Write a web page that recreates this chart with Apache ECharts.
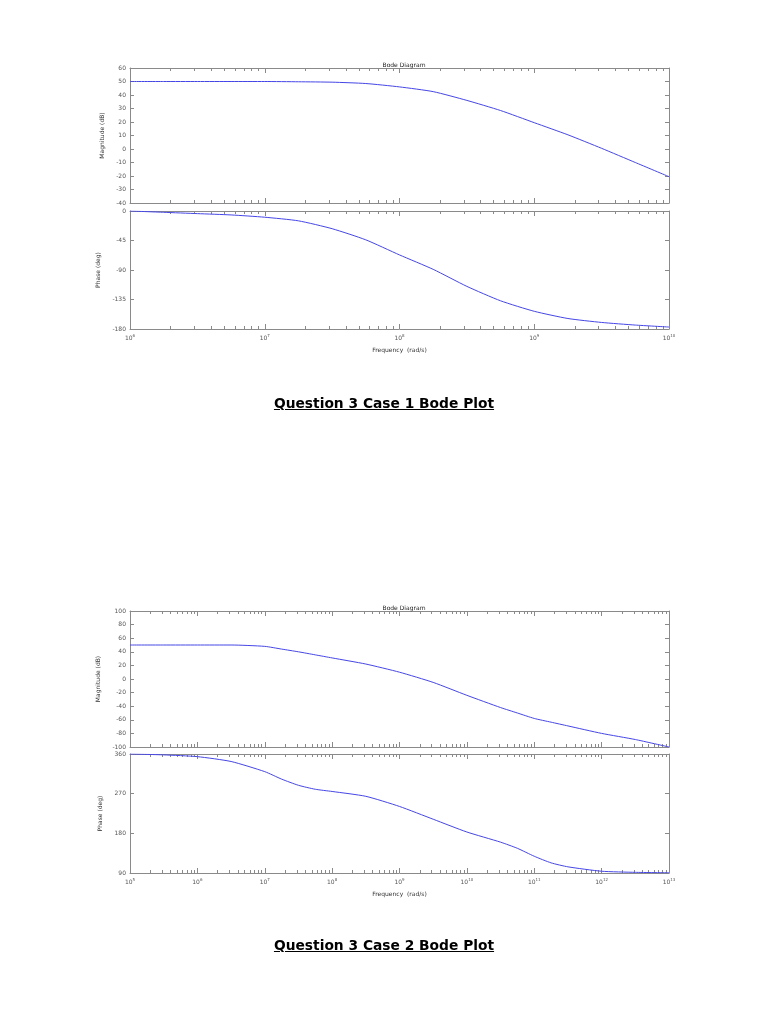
<!DOCTYPE html>
<html>
<head>
<meta charset="utf-8">
<script src="https://cdn.jsdelivr.net/npm/echarts@6/dist/echarts.min.js"></script>
<style>
  html, body { margin: 0; padding: 0; background: #fff; }
  #chart { position: absolute; left: 0; top: 0; width: 768px; height: 1024px; }
  .cap { position: absolute; left: 0; width: 768px; text-align: center;
         font-family: "DejaVu Sans", sans-serif; font-weight: bold; font-size: 13.8px;
         text-decoration: underline; color: #000; }
</style>
</head>
<body>
<div id="chart"></div>
<div class="cap" style="top:395px;">Question 3 Case 1 Bode Plot</div>
<div class="cap" style="top:937px;">Question 3 Case 2 Bode Plot</div>
<script>
// ---- Data (frequency given as log10 of rad/s) ----
const case1LogFreq = [6, 6.25, 6.5, 6.75, 7, 7.25, 7.5, 7.75, 8, 8.25, 8.5, 8.75, 9, 9.25, 9.5, 9.75, 10];
const case1Mag     = [50, 50, 50, 50, 50, 49.8, 49.5, 48.5, 46, 42.5, 36, 28.5, 19.5, 10.5, 0.5, -10, -20.5];
const case1Phase   = [0, -2, -4, -6, -9.5, -15, -27, -44, -67, -89, -115, -137, -153, -164, -170, -174, -177];

const case2LogFreq = [5, 5.5, 6, 6.5, 7, 7.25, 7.5, 7.75, 8, 8.5, 9, 9.5, 10, 10.5, 10.75, 11, 11.25, 11.5, 12, 12.5, 13];
const case2Mag     = [50, 50, 50, 50, 48, 44, 40, 35.5, 31, 22, 10, -5, -24, -42, -50, -58, -63.5, -69, -80, -89, -100];
const case2Phase   = [360, 358, 354, 343, 320, 303, 289, 280, 275, 264, 241, 212, 183, 160, 146, 128, 113, 104, 94, 91.5, 90.5];

const case1MagTicks = { min: -40, max: 60, interval: 10 };
const case1PhTicks  = { min: -180, max: 0, interval: 45 };
const case2MagTicks = { min: -100, max: 100, interval: 20 };
const case2PhTicks  = { min: 90, max: 360, interval: 90 };

const titleText = 'Bode Diagram';
const xName = 'Frequency  (rad/s)';
const magName = 'Magnitude (dB)';
const phName = 'Phase (deg)';

// ---- Build chart ----
const AX = '#8a8a8a';
const LAB = '#555';
const LINE = '#4646e6';

function minorTicks(lo, hi) {
  const out = [];
  for (let d = lo; d < hi; d++) for (let k = 2; k <= 9; k++) out.push(d + Math.log10(k));
  return out;
}

const grids = [
  { left: 130, width: 539, top: 68,  height: 135 },
  { left: 130, width: 539, top: 211, height: 118 },
  { left: 130, width: 539, top: 611, height: 136 },
  { left: 130, width: 539, top: 754, height: 119 }
];

const xAxes = [], yAxes = [], series = [];

function addPanel(gi, lo, hi, yt, yname, showX, logF, vals) {
  const minor = minorTicks(lo, hi);
  const base = { type: 'value', gridIndex: gi, min: lo, max: hi, interval: 1,
                 splitLine: { show: false } };
  const xStart = xAxes.length;
  xAxes.push(Object.assign({}, base, {
    position: 'bottom',
    axisLine: { show: true, onZero: false, lineStyle: { color: AX, width: 1 } },
    axisTick: { show: true, inside: true, length: 5, lineStyle: { color: AX } },
    axisLabel: showX ? {
      show: true, margin: 5, color: LAB,
      formatter: v => '{b|10}{e|' + v + '}',
      rich: { b: { fontSize: 6, color: LAB, fontFamily: 'DejaVu Sans' },
              e: { fontSize: 4, color: LAB, fontFamily: 'DejaVu Sans', padding: [0, 0, 5, 0] } }
    } : { show: false },
    name: showX ? xName : '', nameLocation: 'middle', nameGap: 18,
    nameTextStyle: { fontSize: 6, color: '#333', fontFamily: 'DejaVu Sans' }
  }));
  xAxes.push(Object.assign({}, base, {
    position: 'bottom',
    axisLine: { show: false, onZero: false },
    axisTick: { show: true, inside: true, length: 3, customValues: minor, lineStyle: { color: AX } },
    axisLabel: { show: false }
  }));
  xAxes.push(Object.assign({}, base, {
    position: 'top',
    axisLine: { show: true, onZero: false, lineStyle: { color: AX, width: 1 } },
    axisTick: { show: true, inside: true, length: 5, lineStyle: { color: AX } },
    axisLabel: { show: false }
  }));
  xAxes.push(Object.assign({}, base, {
    position: 'top',
    axisLine: { show: false, onZero: false },
    axisTick: { show: true, inside: true, length: 3, customValues: minor, lineStyle: { color: AX } },
    axisLabel: { show: false }
  }));
  const yStart = yAxes.length;
  yAxes.push({
    type: 'value', gridIndex: gi, position: 'left', min: yt.min, max: yt.max, interval: yt.interval,
    splitLine: { show: false },
    axisLine: { show: true, onZero: false, lineStyle: { color: AX } },
    axisTick: { show: true, inside: true, length: 4, lineStyle: { color: AX } },
    axisLabel: { show: true, margin: 4, fontSize: 6, color: LAB, fontFamily: 'DejaVu Sans' },
    name: yname, nameLocation: 'middle', nameGap: 17, nameRotate: 90,
    nameTextStyle: { fontSize: 6, color: '#333', fontFamily: 'DejaVu Sans' }
  });
  yAxes.push({
    type: 'value', gridIndex: gi, position: 'right', min: yt.min, max: yt.max, interval: yt.interval,
    splitLine: { show: false },
    axisLine: { show: true, onZero: false, lineStyle: { color: AX } },
    axisTick: { show: true, inside: true, length: 4, lineStyle: { color: AX } },
    axisLabel: { show: false }
  });
  series.push({
    type: 'line', xAxisIndex: xStart, yAxisIndex: yStart, showSymbol: false,
    smooth: 0.2,
    lineStyle: { color: LINE, width: 1 }, itemStyle: { color: LINE },
    data: logF.map((f, i) => [f, vals[i]]), animation: false, silent: true
  });
}

addPanel(0, 6, 10, case1MagTicks, magName, false, case1LogFreq, case1Mag);
addPanel(1, 6, 10, case1PhTicks, phName, true, case1LogFreq, case1Phase);
addPanel(2, 5, 13, case2MagTicks, magName, false, case2LogFreq, case2Mag);
addPanel(3, 5, 13, case2PhTicks, phName, true, case2LogFreq, case2Phase);

const chart = echarts.init(document.getElementById('chart'), null, { renderer: 'canvas' });
chart.setOption({
  animation: false,
  backgroundColor: '#fff',
  title: [
    { text: titleText, left: 399, top: 57, textAlign: 'center',
      textStyle: { fontSize: 6, fontWeight: 'normal', color: '#222', fontFamily: 'DejaVu Sans' } },
    { text: titleText, left: 399, top: 600, textAlign: 'center',
      textStyle: { fontSize: 6, fontWeight: 'normal', color: '#222', fontFamily: 'DejaVu Sans' } }
  ],
  grid: grids,
  xAxis: xAxes,
  yAxis: yAxes,
  series: series
});
</script>
</body>
</html>
